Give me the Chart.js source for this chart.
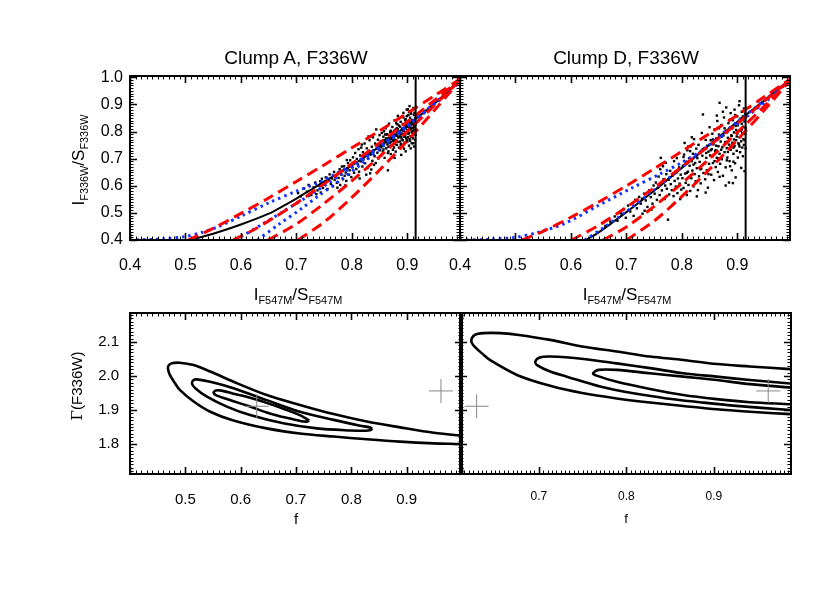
<!DOCTYPE html>
<html>
<head>
<meta charset="utf-8">
<script src="https://cdn.jsdelivr.net/npm/chart.js@4.4.0/dist/chart.umd.min.js"></script>
<style>
  body { margin: 0; background: #fff; }
  #page { position: relative; width: 830px; height: 593px; overflow: hidden;
          font-family: "Liberation Sans", Arial, Helvetica, sans-serif; color: #000; }
  #page canvas { position: absolute; left: 0; top: 0; }
  .lbl { position: absolute; white-space: nowrap; line-height: 1; transform: translate(-50%, -50%); }
  .lbl sub { font-size: 0.64em; vertical-align: -0.38em; line-height: 0; }
  .rot { transform: translate(-50%, -50%) rotate(-90deg); }
  .serif { font-family: "DejaVu Serif", "Liberation Serif", serif; }
</style>
</head>
<body>
<div id="page">
  <canvas id="c-tl" width="830" height="593"></canvas>
  <canvas id="c-tr" width="830" height="593"></canvas>
  <canvas id="c-bl" width="830" height="593"></canvas>
  <canvas id="c-br" width="830" height="593"></canvas>

  <div class="lbl" style="left:296px; top:57px; font-size:19px;">Clump A, F336W</div>
  <div class="lbl" style="left:626px; top:57px; font-size:19px;">Clump D, F336W</div>
  <div class="lbl" style="left:298px; top:294px; font-size:17px;">I<sub>F547M</sub>/S<sub>F547M</sub></div>
  <div class="lbl" style="left:627px; top:294px; font-size:17px;">I<sub>F547M</sub>/S<sub>F547M</sub></div>
  <div class="lbl rot" style="left:78px; top:160px; font-size:17px;">I<sub>F336W</sub>/S<sub>F336W</sub></div>
  <div class="lbl rot" style="left:77px; top:386px; font-size:15px;"><span class="serif">&Gamma;</span>(F336W)</div>
  <div class="lbl" style="left:296px; top:518px; font-size:15px;">f</div>
  <div class="lbl" style="left:626px; top:518px; font-size:13px;">f</div>
</div>

<script>
// ---- axis ranges and tick labels ----
const topXRange = [0.4, 0.995]
const topYRange = [0.4, 1.005]
const botXRangeA = [0.4, 1.0]
const botXRangeD = [0.61, 0.988]
const botYRange = [1.712, 2.185]

const topXTicks = [0.4, 0.5, 0.6, 0.7, 0.8, 0.9]
const topXMajor = [0.4, 0.5, 0.6, 0.7, 0.8, 0.9]
const topYTicks = [0.4, 0.5, 0.6, 0.7, 0.8, 0.9, 1.0]
const botXTicksA = [0.5, 0.6, 0.7, 0.8, 0.9]
const botXMajorA = [0.4, 0.5, 0.6, 0.7, 0.8, 0.9, 1.0]
const botXTicksD = [0.7, 0.8, 0.9]
const botYTicks = [1.8, 1.9, 2.0, 2.1]

// vertical cut in the top panels
const cutX = 0.915

// ---- Clump A, pixel ratios ----
const pointsA = [
  [0.703,0.573],[0.708,0.561],[0.714,0.590],[0.719,0.578],[0.722,0.603],[0.727,0.566],[0.731,0.594],[0.734,0.612],
  [0.738,0.583],[0.741,0.601],[0.744,0.575],[0.746,0.626],[0.748,0.592],[0.736,0.569],[0.743,0.617],
  [0.751,0.604],[0.753,0.631],[0.756,0.588],[0.758,0.619],[0.760,0.642],[0.762,0.607],[0.764,0.627],[0.766,0.598],
  [0.768,0.651],[0.769,0.622],[0.771,0.636],[0.773,0.611],[0.775,0.647],[0.776,0.629],[0.778,0.661],[0.779,0.603],
  [0.781,0.641],[0.783,0.655],[0.784,0.624],[0.786,0.672],[0.787,0.637],[0.789,0.649],[0.790,0.618],[0.792,0.664],
  [0.793,0.684],[0.795,0.641],[0.796,0.657],[0.798,0.676],[0.799,0.632],[0.797,0.694],[0.782,0.671],[0.774,0.593],
  [0.788,0.601],[0.791,0.695],
  [0.801,0.668],[0.802,0.705],[0.804,0.648],[0.805,0.687],[0.806,0.721],[0.808,0.662],[0.809,0.699],[0.811,0.679],
  [0.812,0.735],[0.813,0.652],[0.815,0.712],[0.816,0.690],[0.817,0.741],[0.819,0.671],[0.820,0.724],[0.821,0.697],
  [0.823,0.756],[0.824,0.683],[0.825,0.712],[0.827,0.738],[0.828,0.665],[0.829,0.701],[0.831,0.727],[0.832,0.768],
  [0.833,0.646],[0.834,0.715],[0.836,0.744],[0.837,0.692],[0.838,0.779],[0.839,0.731],[0.841,0.709],[0.842,0.756],
  [0.843,0.684],[0.844,0.808],[0.845,0.738],[0.846,0.722],[0.847,0.770],[0.848,0.701],[0.849,0.752],[0.850,0.787],
  [0.814,0.627],[0.826,0.641],[0.835,0.660],[0.840,0.677],[0.818,0.752],[0.830,0.782],
  [0.851,0.731],[0.852,0.764],[0.853,0.712],[0.854,0.795],[0.855,0.748],[0.856,0.726],[0.857,0.781],[0.858,0.757],
  [0.859,0.703],[0.860,0.769],[0.861,0.812],[0.862,0.738],[0.863,0.790],[0.864,0.753],[0.865,0.657],[0.865,0.721],
  [0.866,0.776],[0.867,0.829],[0.868,0.745],[0.869,0.798],[0.870,0.761],[0.870,0.717],[0.853,0.742],[0.858,0.801],
  [0.862,0.775],[0.866,0.744],[0.869,0.773],
  [0.871,0.785],[0.872,0.749],[0.873,0.817],[0.874,0.733],[0.875,0.772],[0.876,0.803],[0.876,0.758],[0.877,0.841],
  [0.878,0.787],[0.879,0.726],[0.880,0.769],[0.881,0.812],[0.881,0.751],[0.882,0.795],[0.883,0.858],[0.884,0.778],
  [0.885,0.741],[0.885,0.822],[0.886,0.801],[0.887,0.763],[0.888,0.836],[0.888,0.789],[0.889,0.714],[0.890,0.807],
  [0.890,0.771],[0.872,0.795],[0.874,0.766],[0.878,0.754],[0.880,0.831],[0.883,0.809],[0.886,0.782],[0.889,0.754],
  [0.884,0.847],[0.877,0.703],
  [0.891,0.792],[0.892,0.828],[0.892,0.746],[0.893,0.869],[0.894,0.781],[0.894,0.813],[0.895,0.759],[0.896,0.842],
  [0.896,0.798],[0.897,0.727],[0.898,0.824],[0.898,0.776],[0.899,0.857],[0.900,0.805],[0.900,0.763],[0.901,0.882],
  [0.901,0.837],[0.902,0.791],[0.903,0.748],[0.903,0.819],[0.904,0.894],[0.904,0.772],[0.905,0.851],[0.905,0.808],
  [0.906,0.783],[0.906,0.738],[0.907,0.866],[0.907,0.826],[0.908,0.797],[0.908,0.757],[0.909,0.842],[0.909,0.879],
  [0.910,0.814],[0.910,0.775],[0.911,0.833],[0.911,0.792],[0.912,0.861],[0.912,0.745],[0.913,0.818],[0.913,0.804],
  [0.914,0.849],[0.914,0.769],[0.915,0.827],[0.915,0.788],[0.893,0.803],[0.895,0.787],[0.897,0.812],[0.899,0.768],
  [0.902,0.829],[0.906,0.815],[0.909,0.801],[0.912,0.823],[0.894,0.737],[0.899,0.881],[0.903,0.872],[0.911,0.887],
  [0.852,0.751],[0.857,0.734],[0.861,0.762],[0.864,0.789],[0.868,0.757],[0.871,0.772],[0.873,0.749],[0.875,0.793],
  [0.877,0.767],[0.879,0.808],[0.881,0.784],[0.883,0.762],[0.885,0.795],[0.887,0.818],[0.889,0.779],[0.891,0.811],
  [0.892,0.768],[0.894,0.826],[0.896,0.785],[0.897,0.846],[0.898,0.794],[0.900,0.817],[0.901,0.779],[0.902,0.861],
  [0.903,0.796],[0.904,0.834],[0.905,0.766],[0.906,0.871],[0.907,0.809],[0.908,0.843],[0.909,0.785],[0.910,0.828],
  [0.911,0.757],[0.912,0.806],[0.913,0.869],[0.914,0.831],[0.915,0.806],[0.893,0.852],[0.888,0.752],[0.882,0.827],
  [0.876,0.741],[0.870,0.803],[0.866,0.727],[0.860,0.789],[0.856,0.768],[0.907,0.781],[0.904,0.812],[0.899,0.836],
  [0.895,0.812],[0.890,0.792]
]
const blackA = [[0.508,0.400],[0.55,0.423],[0.60,0.457],[0.65,0.497],[0.68,0.530],[0.70,0.553],[0.73,0.590],[0.75,0.615],[0.80,0.675],[0.85,0.745],[0.90,0.822],[0.95,0.905],[1.0,1.0]]
const blueA1 = [[0.40,0.400],[0.46,0.404],[0.50,0.413],[0.53,0.428],[0.56,0.450],[0.60,0.488],[0.65,0.537],[0.70,0.580],[0.74,0.612],[0.80,0.677],[0.85,0.746],[0.90,0.823],[0.95,0.905],[1.0,1.0]]
const blueA2 = [[0.59,0.400],[0.64,0.460],[0.68,0.510],[0.72,0.560],[0.76,0.613],[0.80,0.670],[0.85,0.742],[0.90,0.820],[0.95,0.905],[1.0,1.0]]
const blueA3 = [[0.63,0.400],[0.67,0.460],[0.71,0.517],[0.74,0.563],[0.78,0.622],[0.82,0.685],[0.86,0.752],[0.90,0.818],[0.95,0.903],[1.0,1.0]]
const redA1 = [[0.505,0.400],[0.55,0.443],[0.60,0.498],[0.65,0.555],[0.70,0.616],[0.75,0.677],[0.80,0.740],[0.85,0.803],[0.90,0.868],[0.95,0.934],[1.0,1.0]]
const redA2 = [[0.586,0.400],[0.62,0.434],[0.66,0.483],[0.70,0.536],[0.75,0.607],[0.80,0.681],[0.85,0.758],[0.90,0.836],[0.95,0.917],[1.0,1.0]]
const redA3 = [[0.649,0.400],[0.70,0.459],[0.75,0.535],[0.80,0.618],[0.85,0.708],[0.90,0.801],[0.95,0.899],[1.0,1.0]]
const redA4 = [[0.703,0.400],[0.75,0.466],[0.80,0.557],[0.85,0.658],[0.90,0.766],[0.95,0.881],[1.0,1.0]]

// ---- Clump D, pixel ratios ----
const pointsD = [
  [0.662,0.452],[0.671,0.468],[0.679,0.487],[0.684,0.471],[0.690,0.498],[0.695,0.513],[0.699,0.482],[0.703,0.527],
  [0.707,0.505],[0.712,0.536],[0.716,0.548],[0.719,0.517],[0.723,0.559],[0.726,0.534],[0.729,0.497],[0.732,0.571],
  [0.735,0.546],[0.738,0.522],[0.741,0.583],[0.744,0.558],[0.747,0.534],[0.749,0.601],[0.728,0.552],[0.713,0.489],
  [0.733,0.508],[0.745,0.512],
  [0.751,0.571],[0.753,0.612],[0.755,0.548],[0.757,0.593],[0.758,0.634],[0.760,0.566],[0.761,0.661],[0.763,0.608],
  [0.764,0.583],[0.766,0.672],[0.767,0.624],[0.769,0.551],[0.770,0.601],[0.772,0.643],[0.773,0.589],[0.775,0.475],
  [0.776,0.622],[0.777,0.568],[0.779,0.655],[0.780,0.606],[0.782,0.584],[0.783,0.637],[0.785,0.562],[0.786,0.691],
  [0.787,0.618],[0.789,0.597],[0.790,0.649],[0.792,0.573],[0.793,0.627],[0.795,0.668],[0.796,0.608],[0.797,0.551],
  [0.798,0.641],[0.799,0.586],[0.762,0.703],[0.771,0.685],[0.784,0.531],[0.791,0.702],
  [0.801,0.628],[0.802,0.674],[0.803,0.592],[0.804,0.715],[0.805,0.758],[0.806,0.645],[0.807,0.611],[0.808,0.689],
  [0.809,0.566],[0.810,0.731],[0.811,0.652],[0.812,0.603],[0.813,0.702],[0.814,0.674],[0.815,0.581],[0.816,0.745],
  [0.817,0.628],[0.818,0.691],[0.819,0.656],[0.820,0.718],[0.821,0.598],[0.822,0.772],[0.823,0.643],[0.824,0.684],
  [0.825,0.617],[0.826,0.737],[0.827,0.665],[0.828,0.702],[0.829,0.584],[0.830,0.751],[0.831,0.635],[0.832,0.688],
  [0.833,0.722],[0.834,0.609],[0.835,0.663],[0.836,0.795],[0.837,0.711],[0.838,0.863],[0.839,0.647],[0.840,0.738],
  [0.841,0.682],[0.842,0.624],[0.843,0.769],[0.844,0.703],[0.845,0.657],[0.846,0.748],[0.847,0.593],[0.848,0.726],
  [0.849,0.681],[0.850,0.816],[0.812,0.746],[0.827,0.561],[0.843,0.575],[0.818,0.779],
  [0.851,0.712],[0.852,0.768],[0.853,0.641],[0.854,0.735],[0.855,0.792],[0.856,0.684],[0.857,0.753],[0.858,0.621],
  [0.859,0.808],[0.860,0.727],[0.861,0.669],[0.862,0.774],[0.863,0.703],[0.864,0.839],[0.865,0.651],[0.866,0.746],
  [0.867,0.789],[0.868,0.906],[0.868,0.718],[0.869,0.681],[0.870,0.763],[0.871,0.824],[0.872,0.698],[0.873,0.742],
  [0.874,0.637],[0.875,0.786],[0.876,0.852],[0.877,0.724],[0.878,0.761],[0.879,0.668],[0.880,0.803],[0.880,0.889],
  [0.881,0.739],[0.882,0.704],[0.883,0.777],[0.884,0.831],[0.885,0.612],[0.885,0.752],[0.886,0.691],[0.887,0.815],
  [0.888,0.868],[0.888,0.733],[0.889,0.786],[0.890,0.657],[0.891,0.759],[0.892,0.842],[0.892,0.610],[0.893,0.718],
  [0.894,0.797],[0.895,0.881],[0.895,0.746],[0.896,0.683],[0.897,0.821],[0.898,0.768],[0.899,0.729],[0.900,0.856],
  [0.900,0.792],[0.901,0.704],[0.902,0.835],[0.902,0.757],[0.903,0.897],[0.904,0.912],[0.904,0.779],[0.905,0.724],
  [0.906,0.848],[0.906,0.802],[0.907,0.666],[0.907,0.764],[0.908,0.829],[0.908,0.873],[0.909,0.741],[0.909,0.794],
  [0.910,0.856],[0.910,0.709],[0.911,0.818],[0.911,0.772],[0.912,0.885],[0.912,0.751],[0.913,0.654],[0.913,0.837],
  [0.914,0.792],[0.914,0.866],[0.915,0.813],[0.915,0.738],[0.855,0.708],[0.861,0.731],[0.866,0.701],[0.872,0.781],
  [0.877,0.812],[0.883,0.725],[0.889,0.747],[0.894,0.771],[0.898,0.806],[0.903,0.752],[0.868,0.633],[0.879,0.601],
  [0.897,0.631],[0.863,0.859],[0.874,0.873],
  [0.856,0.771],[0.862,0.748],[0.867,0.812],[0.871,0.733],[0.876,0.797],[0.881,0.762],[0.886,0.843],[0.890,0.784],
  [0.893,0.741],[0.896,0.861],[0.899,0.782],[0.901,0.823],[0.904,0.745],[0.906,0.781],[0.908,0.807],[0.911,0.846],
  [0.913,0.768],[0.915,0.852],[0.826,0.707],[0.833,0.661],[0.838,0.735],[0.844,0.721],[0.848,0.643],[0.821,0.678],
  [0.815,0.728],[0.809,0.648],[0.803,0.706],[0.881,0.694],[0.887,0.672],[0.893,0.689],[0.859,0.691],[0.852,0.731]
]
const blackD = [[0.627,0.400],[0.65,0.428],[0.70,0.503],[0.75,0.582],[0.80,0.666],[0.85,0.751],[0.90,0.836],[0.95,0.917],[1.0,1.0]]
const blueD1 = [[0.40,0.400],[0.45,0.402],[0.50,0.410],[0.54,0.428],[0.59,0.462],[0.65,0.528],[0.71,0.592],[0.76,0.643],[0.80,0.686],[0.84,0.735],[0.88,0.795],[0.92,0.860],[0.96,0.925],[1.0,1.0]]
const blueD2 = [[0.625,0.400],[0.66,0.447],[0.70,0.505],[0.75,0.585],[0.80,0.668],[0.85,0.752],[0.90,0.836],[0.95,0.917],[1.0,1.0]]
const redD1 = [[0.512,0.400],[0.55,0.432],[0.60,0.484],[0.65,0.540],[0.70,0.600],[0.75,0.663],[0.80,0.727],[0.85,0.793],[0.90,0.861],[0.95,0.930],[1.0,1.0]]
const redD2 = [[0.601,0.400],[0.65,0.454],[0.70,0.521],[0.75,0.593],[0.80,0.670],[0.85,0.749],[0.90,0.830],[0.95,0.914],[1.0,1.0]]
const redD3 = [[0.658,0.400],[0.70,0.448],[0.75,0.524],[0.80,0.609],[0.85,0.700],[0.90,0.797],[0.95,0.896],[1.0,1.0]]
const redD4 = [[0.700,0.400],[0.75,0.470],[0.80,0.561],[0.85,0.661],[0.90,0.769],[0.95,0.882],[1.0,1.0]]

// ---- confidence contours in (f, Gamma) ----
const outerA = [[1.01,1.823],[0.949,1.833],[0.888,1.849],[0.828,1.866],[0.768,1.888],[0.707,1.915],[0.647,1.944],[0.587,1.983],
  [0.545,2.013],[0.515,2.032],[0.490,2.039],[0.475,2.037],[0.469,2.028],[0.469,2.018],[0.472,2.003],[0.480,1.982],
  [0.490,1.959],[0.515,1.925],[0.545,1.895],[0.587,1.869],[0.647,1.846],[0.707,1.831],[0.768,1.822],[0.828,1.814],
  [0.888,1.807],[0.949,1.802],[0.994,1.800],[1.01,1.799]]
const middleA = [[0.838,1.845],[0.833,1.849],[0.816,1.854],[0.768,1.871],[0.707,1.895],[0.647,1.929],[0.587,1.964],[0.545,1.983],
  [0.521,1.990],[0.515,1.988],[0.512,1.978],[0.518,1.964],[0.539,1.939],[0.575,1.910],[0.617,1.885],[0.677,1.861],
  [0.738,1.846],[0.798,1.840],[0.826,1.839],[0.835,1.841],[0.838,1.845]]
const innerA = [[0.724,1.869],[0.719,1.874],[0.707,1.885],[0.683,1.900],[0.647,1.921],[0.617,1.936],[0.587,1.948],[0.565,1.957],
  [0.555,1.957],[0.551,1.951],[0.556,1.943],[0.587,1.926],[0.617,1.910],[0.647,1.893],[0.683,1.877],[0.710,1.867],
  [0.720,1.866],[0.724,1.869]]
const outerD = [[1.0,2.018],[0.987,2.020],[0.941,2.028],[0.903,2.035],[0.865,2.047],[0.827,2.057],[0.789,2.072],[0.751,2.086],
  [0.713,2.106],[0.675,2.121],[0.656,2.126],[0.637,2.126],[0.627,2.121],[0.623,2.106],[0.625,2.091],[0.637,2.062],
  [0.644,2.047],[0.675,2.003],[0.713,1.971],[0.751,1.949],[0.789,1.934],[0.827,1.922],[0.865,1.912],[0.903,1.902],
  [0.941,1.895],[0.987,1.888],[1.0,1.886]]
const middleD = [[1.0,1.976],[0.987,1.978],[0.941,1.988],[0.903,1.998],[0.865,2.008],[0.827,2.023],[0.789,2.037],[0.751,2.050],
  [0.713,2.057],[0.701,2.054],[0.696,2.042],[0.698,2.032],[0.713,2.013],[0.732,1.998],[0.770,1.969],[0.808,1.949],
  [0.846,1.934],[0.884,1.923],[0.922,1.913],[0.987,1.900],[1.0,1.898]]
const innerD = [[1.0,1.964],[0.987,1.966],[0.941,1.976],[0.903,1.988],[0.865,1.998],[0.827,2.008],[0.789,2.018],[0.768,2.018],
  [0.762,2.008],[0.766,2.001],[0.789,1.983],[0.827,1.962],[0.865,1.944],[0.903,1.932],[0.941,1.923],[0.987,1.917],[1.0,1.915]]
// best-fit markers (same two in both lower panels)
const bestFits = [[0.629,1.911],[0.962,1.956]]

const RED = "rgb(255,0,0)"
const BLUE = "rgb(20,50,255)"
const FONT = "'Liberation Sans', Arial, Helvetica, sans-serif"

const xy = arr => arr.map(([x, y]) => ({ x, y }))

// IDL style box: ticks pointing in on all four sides, dense minor ticks
const idlFrame = {
  id: "idlFrame",
  afterDatasetsDraw(chart, args, opts) {
    const { ctx, chartArea: a, scales: { x, y } } = chart
    ctx.save()
    ctx.strokeStyle = "#000"
    ctx.lineWidth = 1
    ctx.beginPath()
    const xTick = (v, len) => {
      const p = Math.round(x.getPixelForValue(v)) + 0.5
      ctx.moveTo(p, a.bottom); ctx.lineTo(p, a.bottom - len)
      ctx.moveTo(p, a.top); ctx.lineTo(p, a.top + len)
    }
    const yTick = (v, len) => {
      const p = Math.round(y.getPixelForValue(v)) + 0.5
      ctx.moveTo(a.left, p); ctx.lineTo(a.left + len, p)
      ctx.moveTo(a.right, p); ctx.lineTo(a.right - len, p)
    }
    for (let k = Math.ceil(x.min / opts.xMinor); k * opts.xMinor <= x.max + 1e-9; k++) xTick(k * opts.xMinor, 3.5)
    for (let k = Math.ceil(y.min / opts.yMinor); k * opts.yMinor <= y.max + 1e-9; k++) yTick(k * opts.yMinor, 3.5)
    ctx.stroke()
    ctx.lineWidth = 1.6
    ctx.beginPath()
    opts.xMajor.filter(v => v >= x.min && v <= x.max).forEach(v => xTick(v, 7))
    opts.yMajor.filter(v => v >= y.min && v <= y.max).forEach(v => yTick(v, 7))
    ctx.stroke()
    ctx.lineWidth = 2
    ctx.strokeRect(a.left, a.top, a.right - a.left, a.bottom - a.top)
    ctx.restore()
  }
}

// one panel = one chart, its plot box placed at box = [left, top, right, bottom] on the page
function makePanel(id, box, cfg) {
  const yW = cfg.yTicks ? 60 : 0
  const xH = 50
  new Chart(document.getElementById(id), {
    type: "scatter",
    data: { datasets: cfg.datasets },
    options: {
      responsive: false,
      animation: false,
      events: [],
      layout: { padding: { left: box[0] - yW, top: box[1], right: 830 - box[2], bottom: 593 - box[3] - xH } },
      plugins: {
        legend: { display: false },
        tooltip: { enabled: false },
        idlFrame: { xMajor: cfg.xMajor, yMajor: cfg.yMajor, xMinor: cfg.xMinor, yMinor: cfg.yMinor }
      },
      scales: {
        x: {
          type: "linear", min: cfg.xRange[0], max: cfg.xRange[1],
          grid: { display: false, drawTicks: false }, border: { display: false },
          afterBuildTicks: s => { s.ticks = cfg.xTicks.map(v => ({ value: v })) },
          afterFit: s => { s.height = xH },
          ticks: { color: "#000", padding: cfg.xPad, autoSkip: false, maxRotation: 0,
                   font: { family: FONT, size: cfg.xFont }, callback: v => v.toFixed(1) }
        },
        y: {
          type: "linear", min: cfg.yRange[0], max: cfg.yRange[1],
          grid: { display: false, drawTicks: false }, border: { display: false },
          afterBuildTicks: s => { s.ticks = (cfg.yTicks || []).map(v => ({ value: v })) },
          afterFit: s => { s.width = yW },
          ticks: { display: !!cfg.yTicks, color: "#000", padding: cfg.yPad, autoSkip: false,
                   font: { family: FONT, size: cfg.yFont }, callback: v => v.toFixed(1) }
        }
      }
    },
    plugins: [idlFrame]
  })
}

function ratioDatasets(points, black, blues, reds, yRange) {
  const sets = []
  sets.push({ data: xy([[cutX, yRange[0]], [cutX, yRange[1]]]), showLine: true, borderColor: "#000", borderWidth: 2, pointRadius: 0 })
  reds.forEach(r => sets.push({ data: xy(r), showLine: true, borderColor: RED, borderWidth: 3, borderDash: [11, 6], tension: 0.3, pointRadius: 0 }))
  blues.forEach(b => sets.push({ data: xy(b), showLine: true, borderColor: BLUE, borderWidth: 3, borderDash: [2.5, 4], tension: 0.3, pointRadius: 0 }))
  sets.push({ data: xy(black), showLine: true, borderColor: "#000", borderWidth: 2, tension: 0.3, pointRadius: 0 })
  sets.push({ data: xy(points), showLine: false, pointStyle: "rect", pointRadius: 1.7, borderWidth: 0, backgroundColor: "#000" })
  return sets
}

function contourDatasets(contours) {
  const sets = [{ data: xy(bestFits), showLine: false, pointStyle: "cross", pointRadius: 12, borderWidth: 1, borderColor: "#888" }]
  contours.forEach(c => sets.push({ data: xy(c), showLine: true, borderColor: "#000", borderWidth: 2.6, tension: 0.3, pointRadius: 0 }))
  return sets
}

makePanel("c-tl", [130, 76, 460, 240], {
  xRange: topXRange, yRange: topYRange, xTicks: topXTicks, yTicks: topYTicks,
  xMajor: topXMajor, yMajor: topYTicks, xMinor: 0.01, yMinor: 0.01,
  xFont: 16, yFont: 16, xPad: 16, yPad: 7,
  datasets: ratioDatasets(pointsA, blackA, [blueA1, blueA2, blueA3], [redA1, redA2, redA3, redA4], topYRange)
})
makePanel("c-tr", [460, 76, 790, 240], {
  xRange: topXRange, yRange: topYRange, xTicks: topXTicks, yTicks: null,
  xMajor: topXMajor, yMajor: topYTicks, xMinor: 0.01, yMinor: 0.01,
  xFont: 16, xPad: 16,
  datasets: ratioDatasets(pointsD, blackD, [blueD1, blueD2], [redD1, redD2, redD3, redD4], topYRange)
})
makePanel("c-bl", [130, 313, 462, 474], {
  xRange: botXRangeA, yRange: botYRange, xTicks: botXTicksA, yTicks: botYTicks,
  xMajor: botXMajorA, yMajor: botYTicks, xMinor: 0.01, yMinor: 0.01,
  xFont: 15, yFont: 15, xPad: 17, yPad: 11,
  datasets: contourDatasets([outerA, middleA, innerA])
})
makePanel("c-br", [460, 313, 791, 474], {
  xRange: botXRangeD, yRange: botYRange, xTicks: botXTicksD, yTicks: null,
  xMajor: botXTicksD, yMajor: botYTicks, xMinor: 0.005, yMinor: 0.01,
  xFont: 12, xPad: 15,
  datasets: contourDatasets([outerD, middleD, innerD])
})
</script>
</body>
</html>
